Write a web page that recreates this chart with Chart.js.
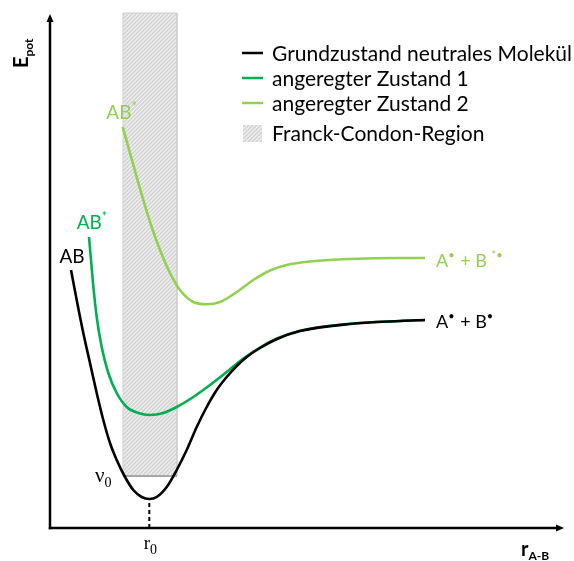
<!DOCTYPE html>
<html><head><meta charset="utf-8">
<script src="https://cdn.jsdelivr.net/npm/chart.js@4"></script>
<style>html,body{margin:0;padding:0;background:#fff}#wrap{width:574px;height:561px}</style>
</head><body><div id="wrap"><canvas id="c" width="574" height="561"></canvas></div>
<script>
// ---- data (x = r_A-B, y = E_pot, arbitrary units) ----
const groundR = [21,26.7,33.3,40,46.7,53.3,60,66.7,75,83.3,91.7,99.3,106.7,116.7,126.7,136.7,146.7,156.7,166.7,176.7,186.7,196.7,210,227,250,300,350,375];
const groundE = [258,228,195,165,135,108,85,68,51,38,31,29,31,41,58,78,101,121,138,151,162,171,180,189,197,204,207,208];
const exc1R = [39,41,43,46.7,51.7,58.3,66.7,76.7,88.3,100,113.3,126.7,143.3,160,176.7,193.3,210,227,250,300,350,375];
const exc1E = [291,268,245,211,181,155,135,121,115,113,115,121,131,143,156,169.5,180.5,189.5,197.3,204.2,207,208];
const exc2R = [72.7,80,86.7,93.3,101.7,110,120,130,143.3,156.7,170,186.7,203.3,220,236.7,260,300,350,375];
const exc2E = [401,375,351,328,301,278,255,238,226,223.7,226,236,248,257.5,263,266.5,269,270,270];
const fcRange = [73, 127];      // Franck-Condon region (r)
const fcTop = 515;
const v0Level = 52;             // vibrational ground level
const r0 = 99.3;                // equilibrium distance
const r0Energy = 29;
const seriesNames = ['Grundzustand neutrales Molekül','angeregter Zustand 1','angeregter Zustand 2','Franck-Condon-Region'];
const seriesColors = ['#000000','#00b050','#92d050'];

const toXY = (xs, ys) => xs.map((x, i) => ({x, y: ys[i]}));

function makePattern() {
  const c = document.createElement('canvas'); c.width = 4; c.height = 4;
  const g = c.getContext('2d');
  g.fillStyle = '#d4d4d4'; g.fillRect(0, 0, 4, 4);
  g.strokeStyle = '#f4f4f4'; g.lineWidth = 1.1;
  g.beginPath();
  g.moveTo(-1, 5); g.lineTo(5, -1);
  g.moveTo(-3, 3); g.lineTo(3, -3);
  g.moveTo(1, 7); g.lineTo(7, 1);
  g.stroke();
  return g.createPattern(c, 'repeat');
}
const hatch = makePattern();

const SANS = 'Lato, "Open Sans", sans-serif';
const SERIF = '"Liberation Serif", "DejaVu Serif", serif';

function rich(ctx, parts, x, y, align) {
  let w = 0;
  parts.forEach(p => { ctx.font = p.font; w += ctx.measureText(p.t).width + (p.gap || 0); });
  let cx = align === 'center' ? x - w / 2 : (align === 'right' ? x - w : x);
  ctx.textBaseline = 'alphabetic'; ctx.textAlign = 'left';
  parts.forEach(p => {
    ctx.font = p.font; ctx.fillStyle = p.color || '#000';
    ctx.fillText(p.t, cx, y + (p.dy || 0));
    cx += ctx.measureText(p.t).width + (p.gap || 0);
  });
}

const decor = {
  id: 'decor',
  afterDatasetsDraw(chart) {
    const ctx = chart.ctx, xs = chart.scales.x, ys = chart.scales.y;
    const X = v => xs.getPixelForValue(v), Y = v => ys.getPixelForValue(v);
    ctx.save();
    // axes with arrows
    const ox = X(0), oy = Y(0);
    ctx.strokeStyle = '#000'; ctx.fillStyle = '#000'; ctx.lineWidth = 2.5;
    ctx.beginPath(); ctx.moveTo(ox, oy + 1.2); ctx.lineTo(ox, 21); ctx.stroke();
    ctx.beginPath(); ctx.moveTo(ox - 3.5, 22); ctx.lineTo(ox, 14); ctx.lineTo(ox + 3.5, 22); ctx.closePath(); ctx.fill();
    ctx.beginPath(); ctx.moveTo(ox - 1.2, oy); ctx.lineTo(557, oy); ctx.stroke();
    ctx.beginPath(); ctx.moveTo(556, oy - 3.5); ctx.lineTo(564, oy); ctx.lineTo(556, oy + 3.5); ctx.closePath(); ctx.fill();

    // axis titles
    ctx.save();
    ctx.translate(28, 68); ctx.rotate(-Math.PI / 2);
    rich(ctx, [{t: 'E', font: 'bold 20px ' + SANS}, {t: 'pot', font: 'bold 12px ' + SANS, dy: 5}], 0, 0, 'left');
    ctx.restore();
    rich(ctx, [{t: 'r', font: 'bold 20px ' + SANS}, {t: 'A-B', font: 'bold 12px ' + SANS, dy: 4}], 521, 556, 'left');

    // curve end labels
    const g0 = {x: X(groundR[0]), y: Y(groundE[0])};
    rich(ctx, [{t: 'AB', font: '19px ' + SANS, color: '#000'}], g0.x + 1, g0.y - 7, 'center');
    const e1 = {x: X(exc1R[0]), y: Y(exc1E[0])};
    rich(ctx, [{t: 'AB', font: '19px ' + SANS, color: seriesColors[1]}, {t: '*', font: '13px ' + SANS, dy: -8, color: seriesColors[1]}], e1.x + 3, e1.y - 8, 'center');
    const e2 = {x: X(exc2R[0]), y: Y(exc2E[0])};
    rich(ctx, [{t: 'AB', font: '19px ' + SANS, color: seriesColors[2]}, {t: '*', font: '13px ' + SANS, dy: -8, color: seriesColors[2]}], e2.x - 1, e2.y - 8, 'center');

    const gEnd = {x: X(groundR[groundR.length - 1]), y: Y(groundE[groundE.length - 1])};
    rich(ctx, [{t: 'A', font: '18px ' + SANS}, {t: '•', font: '11px ' + SANS, dy: -8, gap: 1}, {t: ' + B', font: '18px ' + SANS}, {t: '•', font: '11px ' + SANS, dy: -8}], gEnd.x + 11, gEnd.y + 8, 'left');
    const e2End = {x: X(exc2R[exc2R.length - 1]), y: Y(exc2E[exc2E.length - 1])};
    const c2 = seriesColors[2];
    rich(ctx, [{t: 'A', font: '18px ' + SANS, color: c2}, {t: '•', font: '11px ' + SANS, dy: -8, gap: 1, color: c2}, {t: ' + B ', font: '18px ' + SANS, color: c2}, {t: '*•', font: '11px ' + SANS, dy: -8, color: c2}], e2End.x + 11, e2End.y + 9, 'left');

    // nu_0 and r_0
    rich(ctx, [{t: 'ν', font: '21px ' + SERIF}, {t: '0', font: '14px ' + SERIF, dy: 5}], X(fcRange[0]) - 28, Y(v0Level) + 6, 'left');
    rich(ctx, [{t: 'r', font: '19px ' + SERIF}, {t: '0', font: '14px ' + SERIF, dy: 5}], X(r0) + 1, 549, 'center');

    // legend
    const lx = 242, lw = 21, tx = 272;
    const rows = [53, 78, 103, 133];
    ctx.lineWidth = 2.5;
    for (let i = 0; i < 3; i++) {
      ctx.strokeStyle = seriesColors[i];
      ctx.beginPath(); ctx.moveTo(lx, rows[i]); ctx.lineTo(lx + lw, rows[i]); ctx.stroke();
    }
    ctx.fillStyle = hatch; ctx.fillRect(lx + 1, rows[3] - 8, 19, 17);
    ctx.font = '21px ' + SANS; ctx.fillStyle = '#000'; ctx.textBaseline = 'middle'; ctx.textAlign = 'left';
    seriesNames.forEach((n, i) => ctx.fillText(n, tx, rows[i] + 1));
    ctx.restore();
  }
};

new Chart(document.getElementById('c'), {
  type: 'line',
  data: {
    datasets: [
      {label: seriesNames[0], data: toXY(groundR, groundE), borderColor: seriesColors[0], borderWidth: 2.6, pointRadius: 0, cubicInterpolationMode: 'monotone', fill: false, order: 1},
      {label: seriesNames[1], data: toXY(exc1R, exc1E), borderColor: seriesColors[1], borderWidth: 2.6, pointRadius: 0, cubicInterpolationMode: 'monotone', fill: false, order: 2},
      {label: seriesNames[2], data: toXY(exc2R, exc2E), borderColor: seriesColors[2], borderWidth: 2.6, pointRadius: 0, cubicInterpolationMode: 'monotone', fill: false, order: 3},
      {label: seriesNames[3], data: [{x: fcRange[0], y: v0Level}, {x: fcRange[0], y: fcTop}, {x: fcRange[1], y: fcTop}, {x: fcRange[1], y: v0Level}],
        borderColor: '#cfcfcf', borderWidth: 1, backgroundColor: hatch, pointRadius: 0, tension: 0, fill: {value: v0Level}, order: 10},
      {label: 'v0', data: [{x: fcRange[0], y: v0Level}, {x: fcRange[1], y: v0Level}], borderColor: '#a6a6a6', borderWidth: 2, pointRadius: 0, fill: false, order: 9},
      {label: 'r0', data: [{x: r0, y: 0}, {x: r0, y: r0Energy}], borderColor: '#000', borderWidth: 2, borderDash: [4, 3], pointRadius: 0, fill: false, order: 8}
    ]
  },
  options: {
    responsive: false, devicePixelRatio: 1, animation: false,
    layout: {padding: {left: 50, top: 12, right: 11, bottom: 33}},
    scales: {
      x: {type: 'linear', min: 0, max: 513, display: false},
      y: {type: 'linear', min: 0, max: 516, display: false}
    },
    plugins: {legend: {display: false}, tooltip: {enabled: false}}
  },
  plugins: [decor]
});
</script></body></html>
